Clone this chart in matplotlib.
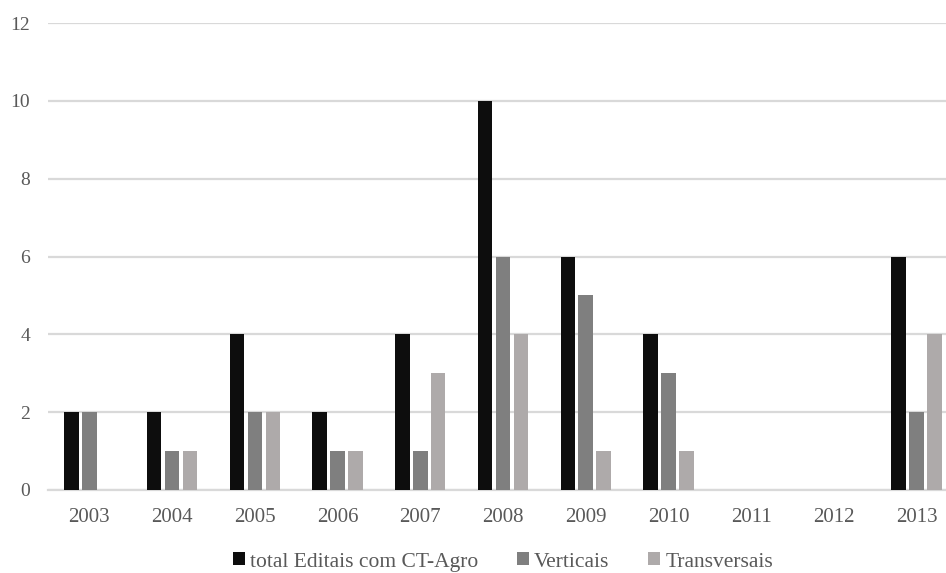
import matplotlib
matplotlib.use('Agg')
import matplotlib.pyplot as plt
import numpy as np

# dados por ano
anos = ['2003', '2004', '2005', '2006', '2007', '2008', '2009', '2010', '2011', '2012', '2013']
total = [2, 2, 4, 2, 4, 10, 6, 4, 0, 0, 6]
verticais = [2, 1, 2, 1, 1, 6, 5, 3, 0, 0, 2]
transversais = [0, 1, 2, 1, 3, 4, 1, 1, 0, 0, 4]

series = [
    ('total Editais com CT-Agro', total, '#0d0d0d'),
    ('Verticais', verticais, '#7f7f7f'),
    ('Transversais', transversais, '#aeaaaa'),
]

plt.rcParams['font.family'] = 'serif'
plt.rcParams['font.serif'] = ['Liberation Serif', 'DejaVu Serif']

fig = plt.figure(figsize=(9.46, 5.73), dpi=100)
ax = fig.add_axes([48 / 946, 83 / 573, 898 / 946, 467 / 573])

x = np.arange(len(anos))
passo = 0.217
largura = 0.175
for i, (nome, vals, cor) in enumerate(series):
    ax.bar(x + (i - 1) * passo, vals, width=largura, color=cor, label=nome, zorder=3)

ax.set_ylim(0, 12)
ax.set_yticks(range(0, 13, 2))
ax.set_xlim(-0.5, 10.355)
ax.set_xticks(x)
ax.set_xticklabels(anos)

ax.grid(axis='y', color='#d9d9d9', linewidth=1.6, zorder=0)
ax.set_axisbelow(True)
for s in ['top', 'right', 'left']:
    ax.spines[s].set_visible(False)
ax.spines['bottom'].set_color('#d9d9d9')
ax.spines['bottom'].set_linewidth(1.6)
ax.tick_params(axis='both', length=0, colors='#595959')
ax.tick_params(axis='x', pad=13, labelsize=15)
ax.tick_params(axis='y', pad=13, labelsize=14)

leg = fig.legend(loc='center', bbox_to_anchor=(503 / 946, 1 - 562 / 573), ncol=3, frameon=False,
                 fontsize=15.5, handlelength=0.55, handleheight=0.55, handletextpad=0.25,
                 columnspacing=1.8)
for t in leg.get_texts():
    t.set_color('#595959')

plt.savefig('out.png', dpi=100)
plt.close()
